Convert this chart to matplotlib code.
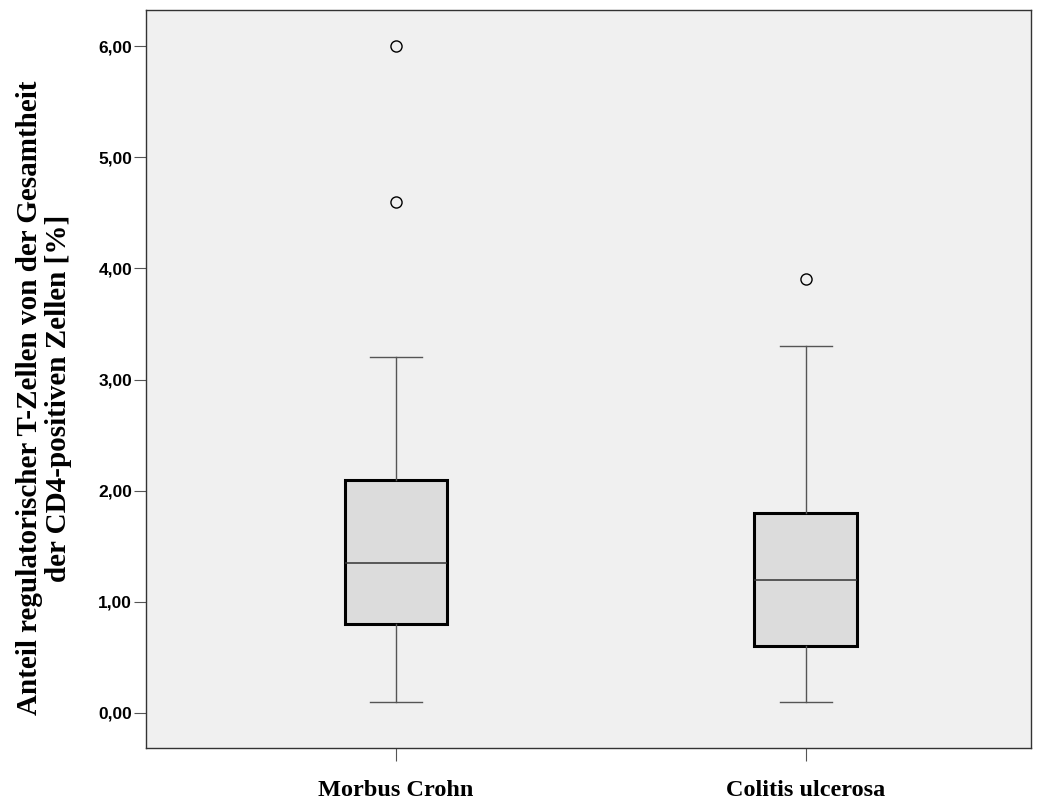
import matplotlib
matplotlib.use('Agg')
import matplotlib.pyplot as plt
from matplotlib.ticker import FuncFormatter

# box statistics
groups = ['Morbus Crohn', 'Colitis ulcerosa']
q1 = [0.80, 0.60]
med = [1.35, 1.20]
q3 = [2.10, 1.80]
whislo = [0.10, 0.10]
whishi = [3.20, 3.30]
fliers = [[4.60, 6.00], [3.90]]
yticks = [0, 1, 2, 3, 4, 5, 6]

stats = []
for i in range(len(groups)):
    stats.append({'label': groups[i], 'q1': q1[i], 'med': med[i], 'q3': q3[i],
                  'whislo': whislo[i], 'whishi': whishi[i], 'fliers': fliers[i]})

fig = plt.figure(figsize=(10.42, 8), dpi=100)
ax = fig.add_axes([0.1401, 0.065, 0.8493, 0.9225])
ax.set_facecolor('#f0f0f0')

ax.bxp(stats, positions=[1, 2], widths=0.251, patch_artist=True,
       boxprops=dict(facecolor='#dcdcdc', edgecolor='black', linewidth=2.2),
       medianprops=dict(color='#333333', linewidth=1.1),
       whiskerprops=dict(color='#555555', linewidth=1.0),
       capprops=dict(color='#555555', linewidth=1.0),
       capwidths=0.126,
       flierprops=dict(marker='o', markersize=8, markerfacecolor='none',
                       markeredgecolor='black', markeredgewidth=1.0))

ax.set_xlim(0.39, 2.549)
ax.set_ylim(-0.315, 6.324)
ax.set_yticks(yticks)
ax.yaxis.set_major_formatter(FuncFormatter(lambda v, p: ('%.2f' % v).replace('.', ',')))
for s in ['left', 'bottom', 'right', 'top']:
    ax.spines[s].set_color('#333333')
    ax.spines[s].set_linewidth(1.0)
ax.tick_params(axis='y', length=9, width=0.8, color='#555555', pad=1)
ax.tick_params(axis='x', length=9, width=0.8, color='#555555', pad=14)
for lab in ax.get_yticklabels():
    lab.set_fontfamily('Liberation Sans')
    lab.set_fontweight('bold')
    lab.set_fontsize(12.5)
ax.set_xticklabels(groups, fontfamily='Liberation Serif', fontweight='bold', fontsize=17.5)

ax.set_ylabel('Anteil regulatorischer T-Zellen von der Gesamtheit\nder CD4-positiven Zellen [%]',
              fontfamily='Liberation Serif', fontweight='bold', fontsize=21,
              linespacing=1.1)
ax.yaxis.set_label_coords(-0.0836, 0.474)

fig.savefig('out.png', dpi=100)
